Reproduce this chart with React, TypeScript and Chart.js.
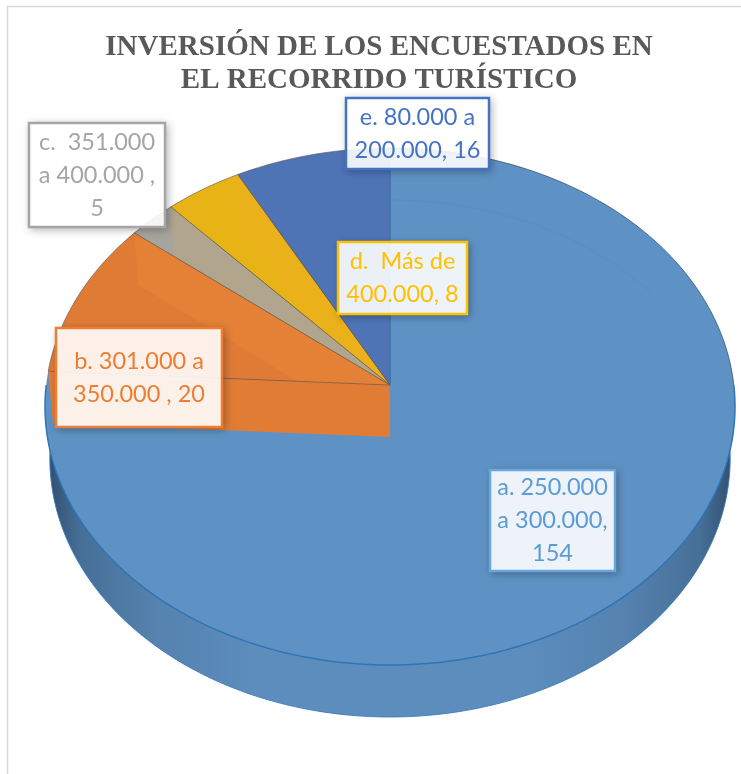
import React, { useEffect, useRef } from "react";
import { Chart, registerables } from "chart.js";

Chart.register(...registerables);

const titleLines = ["INVERSIÓN DE LOS ENCUESTADOS EN", "EL RECORRIDO TURÍSTICO"];
const categories = [
  "a. 250.000 a 300.000",
  "b. 301.000 a 350.000",
  "c. 351.000 a 400.000",
  "d. Más de 400.000",
  "e. 80.000 a 200.000",
];
const values = [154, 20, 5, 8, 16];
const sliceColors = ["#5f92c4", "#e07b36", "#a6a59d", "#e8b315", "#4f74b6"];
const labelLines = [
  ["a. 250.000", "a 300.000,", "154"],
  ["b. 301.000 a", "350.000 , 20"],
  ["c.  351.000", "a 400.000 ,", "5"],
  ["d.  Más de", "400.000, 8"],
  ["e. 80.000 a", "200.000, 16"],
];
const labelColors = ["#5b9bd5", "#ed7d31", "#a5a5a5", "#ffc000", "#4472c4"];
const labelBorders = ["#6aa5de", "#ed7d31", "#a5a5a5", "#ffc000", "#4472c4"];
// left, top, right, bottom of each label box
const labelBoxes = [
  [489, 469, 616, 572],
  [55, 327, 223, 428],
  [28, 122, 166, 228],
  [337, 241, 468, 315],
  [345, 97, 490, 170],
];

const CX = 390;
const TOP_Y = 385;
const BOTTOM_Y = 437;
const K = 0.0832;
const B = 256.7;
const TOP_A = 343.8;
const BOTTOM_A = 339;

type P = [number, number];
const project = (angle: number, r: number, bottom: boolean): P => {
  const u = Math.cos(angle) * r;
  const v = -Math.sin(angle) * r;
  const w = 1 + K * v;
  return [CX + ((bottom ? BOTTOM_A : TOP_A) * u) / w, (bottom ? BOTTOM_Y : TOP_Y) - (B * v) / w];
};

const rim = (start: number, end: number, bottom: boolean): P[] => {
  const steps = Math.max(2, Math.ceil((Math.abs(end - start) / (2 * Math.PI)) * 240));
  const pts: P[] = [];
  for (let i = 0; i <= steps; i++) pts.push(project(start + ((end - start) * i) / steps, 1, bottom));
  return pts;
};

const tracePath = (ctx: CanvasRenderingContext2D, pts: P[], close = true) => {
  ctx.beginPath();
  pts.forEach((p, i) => (i ? ctx.lineTo(p[0], p[1]) : ctx.moveTo(p[0], p[1])));
  if (close) ctx.closePath();
};

const pie3d = {
  id: "pie3d",
  beforeDatasetsDraw(chart: any) {
    const ctx: CanvasRenderingContext2D = chart.ctx;
    const arcs = chart.getDatasetMeta(0).data;
    const apexTop: P = [CX, TOP_Y];
    const apexBottom: P = [CX, BOTTOM_Y];

    ctx.save();
    // side wall of the disc
    const wall = ctx.createLinearGradient(46, 0, 735, 0);
    wall.addColorStop(0, "#2f4d6c");
    wall.addColorStop(0.05, "#466f97");
    wall.addColorStop(0.16, "#5582ae");
    wall.addColorStop(0.3, "#5c8dbd");
    wall.addColorStop(0.7, "#5c8dbd");
    wall.addColorStop(0.84, "#5582ae");
    wall.addColorStop(0.95, "#466f97");
    wall.addColorStop(1, "#2f4d6c");
    tracePath(ctx, rim(0, 2 * Math.PI, true));
    ctx.fillStyle = wall;
    ctx.fill();
    ctx.strokeStyle = "rgba(60,125,190,0.9)";
    ctx.lineWidth = 1;
    ctx.stroke();

    // top faces, from the angles the pie controller computed
    arcs.forEach((arc: any, i: number) => {
      const { startAngle, endAngle } = arc.getProps(["startAngle", "endAngle"], true);
      const color = arc.options.backgroundColor;
      if (i === 1) {
        // radial wall of slice b showing below its top face
        const a = startAngle;
        tracePath(ctx, [apexTop, project(a, 1, false), project(a, 1, true), apexBottom]);
        ctx.fillStyle = "#e17c35";
        ctx.fill();
      }
      tracePath(ctx, [apexTop, ...rim(startAngle, endAngle, false)]);
      ctx.fillStyle = color;
      ctx.fill();
      if (i > 0) {
        ctx.strokeStyle = "rgba(90,80,70,0.6)";
        ctx.lineWidth = 1;
        ctx.stroke();
      }
    });

    // lighter radial wall seen through slices b, c, d
    arcs.forEach((arc: any, i: number) => {
      if (i < 1 || i > 3) return;
      const { startAngle, endAngle } = arc.getProps(["startAngle", "endAngle"], true);
      ctx.save();
      tracePath(ctx, [apexTop, ...rim(startAngle, endAngle, false)]);
      ctx.clip();
      tracePath(ctx, [apexTop, project(endAngle, 1, false), project(endAngle, 1, true), apexBottom]);
      ctx.fillStyle = "rgba(255,170,60,0.14)";
      ctx.fill();
      ctx.restore();
    });

    // faint back edge of the lower rim seen through the top
    ctx.strokeStyle = "rgba(70,130,200,0.18)";
    ctx.lineWidth = 1.5;
    tracePath(ctx, rim(-Math.PI * 0.62, -Math.PI * 0.2, true), false);
    ctx.stroke();

    // vertical seam at the first slice's start
    ctx.strokeStyle = "#4078b4";
    ctx.lineWidth = 1.5;
    tracePath(ctx, [apexTop, project(-Math.PI / 2, 1, false)], false);
    ctx.stroke();

    // outline of the top face
    ctx.strokeStyle = "#2e75b6";
    ctx.lineWidth = 1.5;
    tracePath(ctx, rim(0, Math.PI, false), false);
    ctx.stroke();
    ctx.strokeStyle = "rgba(55,85,120,0.8)";
    ctx.lineWidth = 1;
    tracePath(ctx, rim(-Math.PI * 0.5, 0, false), false);
    ctx.stroke();
    ctx.restore();
    return false;
  },
  afterDraw(chart: any) {
    const ctx: CanvasRenderingContext2D = chart.ctx;
    ctx.save();
    // chart frame
    ctx.strokeStyle = "#d9d9d9";
    ctx.lineWidth = 1.5;
    ctx.beginPath();
    ctx.moveTo(7.5, 774);
    ctx.lineTo(7.5, 6.5);
    ctx.lineTo(741, 6.5);
    ctx.stroke();

    labelBoxes.forEach((box, i) => {
      const [l, t, r, b] = box;
      // soft shadow outside the box only
      ctx.save();
      ctx.beginPath();
      ctx.rect(0, 0, 741, 774);
      ctx.rect(l, t, r - l, b - t);
      ctx.clip("evenodd");
      ctx.shadowColor = "rgba(0,0,0,0.3)";
      ctx.shadowBlur = 8;
      ctx.shadowOffsetX = 2;
      ctx.shadowOffsetY = 2;
      ctx.fillStyle = "#ffffff";
      ctx.fillRect(l, t, r - l, b - t);
      ctx.restore();

      ctx.fillStyle = "rgba(255,255,255,0.89)";
      ctx.fillRect(l, t, r - l, b - t);
      ctx.strokeStyle = labelBorders[i];
      ctx.lineWidth = 2.5;
      ctx.strokeRect(l + 1, t + 1, r - l - 2, b - t - 2);

      ctx.fillStyle = labelColors[i];
      ctx.font = '23.5px Lato, "Noto Sans", sans-serif';
      ctx.textAlign = "center";
      ctx.textBaseline = "middle";
      const lines = labelLines[i];
      const mid = (t + b) / 2;
      lines.forEach((line, j) => {
        ctx.fillText(line, (l + r) / 2, mid + (j - (lines.length - 1) / 2) * 33);
      });
    });
    ctx.restore();
  },
};

export default function App() {
  const ref = useRef<HTMLCanvasElement>(null);
  useEffect(() => {
    if (!ref.current) return;
    const chart = new Chart(ref.current, {
      type: "pie",
      data: {
        labels: categories,
        datasets: [{ data: values, backgroundColor: sliceColors, borderWidth: 0 }],
      },
      options: {
        responsive: false,
        animation: false,
        layout: { padding: { left: 17, right: 0, top: 0, bottom: 0 } },
        plugins: {
          legend: { display: false },
          tooltip: { enabled: false },
          title: {
            display: true,
            text: titleLines,
            color: "#595959",
            font: { family: '"Liberation Serif", serif', size: 29, weight: "bold", lineHeight: 1.14 },
            padding: { top: 31, bottom: 10 },
          },
        },
      },
      plugins: [pie3d],
    } as any);
    return () => chart.destroy();
  }, []);
  return (
    <div style={{ position: "absolute", left: 0, top: 0, width: 741, height: 774 }}>
      <canvas ref={ref} width={741} height={774} style={{ display: "block" }} />
    </div>
  );
}
